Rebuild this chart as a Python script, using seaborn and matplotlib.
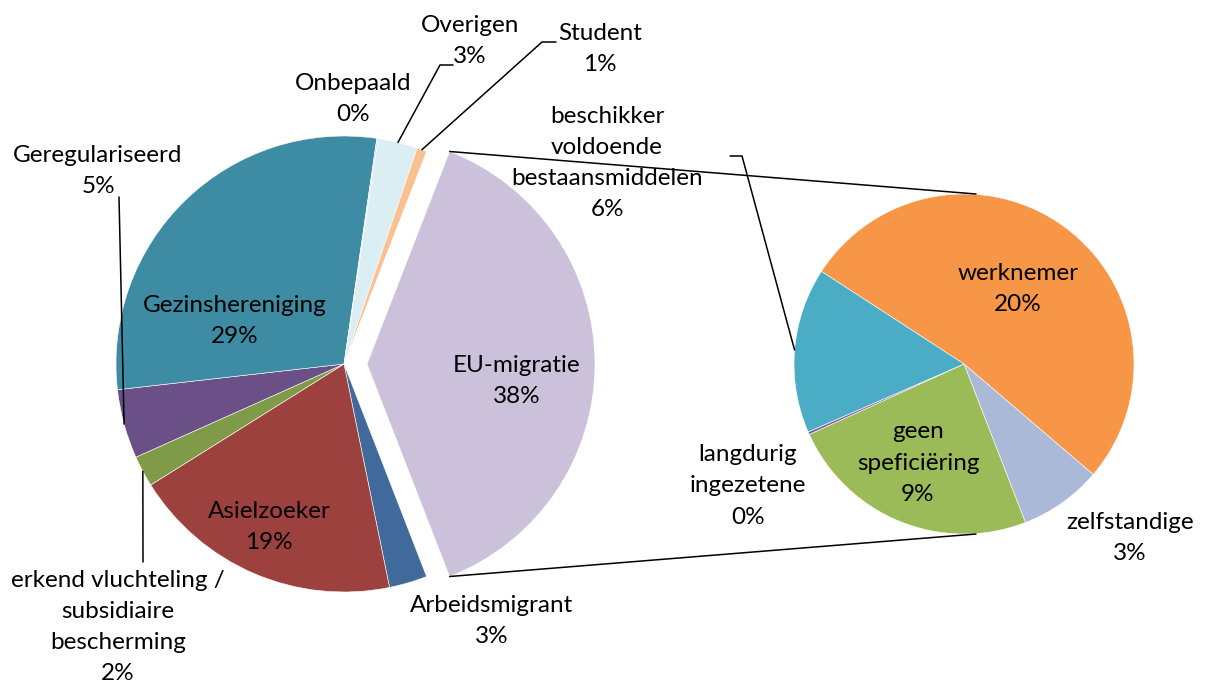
import numpy as np
import matplotlib.pyplot as plt
import seaborn as sns

# %%
# data (percentages of total)
main_labels = ["EU-migratie", "Arbeidsmigrant", "Asielzoeker",
               "erkend vluchteling /\nsubsidiaire\nbescherming",
               "Geregulariseerd", "Gezinshereniging", "Onbepaald",
               "Overigen", "Student"]
main_values = [38.2, 2.7, 19.3, 2.2, 4.9, 29.1, 0.1, 2.8, 0.7]
main_colors = ["#CCC1DA", "#3F6A9B", "#9D413F", "#7F9B47", "#6A5087",
               "#3D8CA3", "#C9DDE6", "#DBEEF4", "#FAC090"]

sub_labels = ["werknemer", "zelfstandige", "geen\nspeficiëring",
              "langdurig\ningezetene", "beschikker\nvoldoende\nbestaansmiddelen"]
sub_values = [19.9, 3.0, 9.2, 0.1, 6.0]
sub_colors = ["#F79646", "#AAB9D8", "#9BBB59", "#8064A2", "#4BACC6"]

# %%
sns.set_style("white")
plt.rcParams['font.family'] = ['Lato', 'DejaVu Sans']

W, H = 1208, 686


def px(x, y):
    return (x, H - y)


fig = plt.figure(figsize=(W / 100, H / 100), dpi=100)
ax = fig.add_axes([0, 0, 1, 1])

main_c, main_r = px(344, 364), 228
sub_c, sub_r = px(964, 364), 170

# explode is in data units here (radius != 1)
wedges, _ = ax.pie(main_values, colors=main_colors,
                   startangle=main_values[0] * 1.8, counterclock=False,
                   center=main_c, radius=main_r,
                   explode=[23] + [0] * (len(main_values) - 1),
                   wedgeprops=dict(linewidth=0.4, edgecolor="white"))
sub_wedges, _ = ax.pie(sub_values, colors=sub_colors,
                       startangle=147, counterclock=False,
                       center=sub_c, radius=sub_r,
                       wedgeprops=dict(linewidth=0.4, edgecolor="white"))

# connector lines between EU slice and the second pie
eu = wedges[0]
cx, cy = eu.center
for th, sy in [(eu.theta2, 1), (eu.theta1, -1)]:
    x0 = cx + main_r * np.cos(np.radians(th))
    y0 = cy + main_r * np.sin(np.radians(th))
    ax.plot([x0, sub_c[0] + 12], [y0, sub_c[1] + sy * sub_r], color="black", lw=1.1)


def edge_point(w, r):
    mid = np.radians((w.theta1 + w.theta2) / 2)
    return w.center[0] + r * np.cos(mid), w.center[1] + r * np.sin(mid)


# label positions (pixel coords of block centre)
main_pos = [(517, 381), (492, 621), (269, 527), (118, 627), (98, 171),
            (235, 321), (353, 99), (470, 41), (600, 49)]
sub_pos = [(1018, 289), (1130, 538), (918, 463), (748, 486), (607, 163)]

for lab, v, pos in zip(main_labels + sub_labels, main_values + sub_values,
                       main_pos + sub_pos):
    ax.text(*px(*pos), f"{lab}\n{v:.0f}%", ha="center", va="center",
            fontsize=17.5, linespacing=1.6, color="black")

# leader lines
leaders = [
    (wedges[4], main_r, [(119, 197)]),
    (wedges[3], main_r, [(143, 562)]),
    (wedges[7], main_r, [(453, 65), (440, 65)]),
    (wedges[8], main_r, [(556, 42), (542, 42)]),
    (sub_wedges[4], sub_r, [(730, 156), (742, 156)]),
]
for w, r, pts in leaders:
    ex, ey = edge_point(w, r)
    xs = [px(*p)[0] for p in pts] + [ex]
    ys = [px(*p)[1] for p in pts] + [ey]
    ax.plot(xs, ys, color="black", lw=1.1)

ax.set_xlim(0, W)
ax.set_ylim(0, H)
ax.set_aspect("equal")
ax.axis("off")

fig.savefig("out.png", dpi=100, facecolor="white")
